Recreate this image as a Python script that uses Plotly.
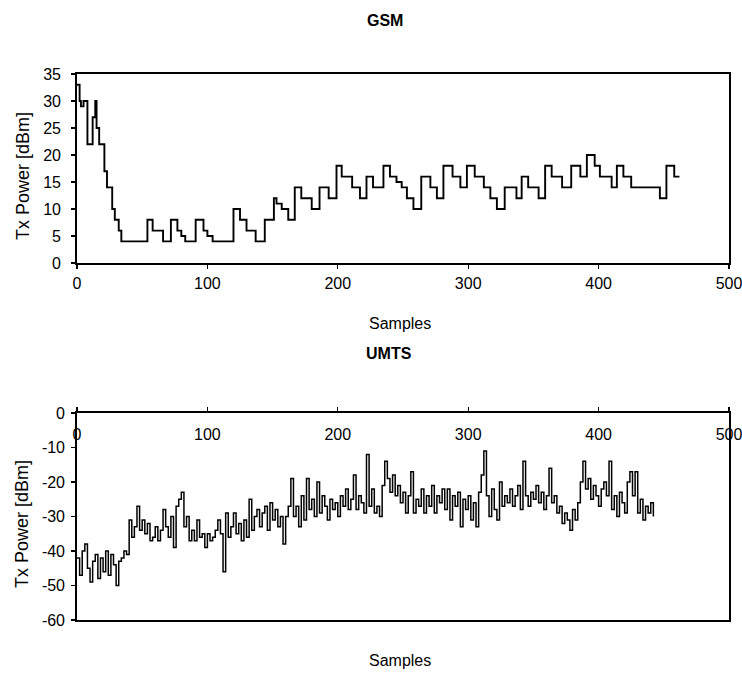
import plotly.graph_objects as go

W, H = 742, 673

# GSM: step change points (sample index, Tx power dBm)
gsm_samples = [0, 2, 3, 5, 8, 12, 14, 15, 17, 21, 23, 27, 29, 32, 34, 54, 58, 66, 72, 77, 80, 83,
               91, 97, 100, 104, 120, 125, 130, 137, 144, 151, 153, 157, 162, 167, 172, 180, 186,
               193, 199, 203, 211, 217, 222, 227, 235, 240, 245, 249, 253, 258, 264, 271, 276,
               281, 288, 294, 299, 305, 312, 317, 322, 328, 337, 341, 346, 354, 359, 364, 372,
               379, 386, 391, 397, 401, 410, 414, 419, 425, 447, 452, 458, 462]
gsm_power = [33, 30, 29, 30, 22, 27, 30, 25, 22, 17, 14, 10, 8, 6, 4, 8, 6, 4, 8, 6, 5, 4,
             8, 6, 5, 4, 10, 8, 6, 4, 8, 12, 11, 10, 8, 14, 12, 10, 14,
             12, 18, 16, 14, 12, 16, 14, 18, 16, 15, 14, 12, 10, 16, 14, 12,
             18, 16, 14, 18, 16, 14, 12, 10, 14, 12, 16, 14, 12, 18, 16, 14,
             18, 16, 20, 18, 16, 14, 18, 16, 14, 12, 18, 16, 16]

# UMTS: Tx power every 2 samples (0..442)
umts_power = [
    -42, -47, -40, -38, -45, -49, -43, -41, -48, -42, -46, -40, -47, -41, -44, -50, -43, -42, -40, -41,
    -31, -36, -33, -27, -34, -31, -35, -32,
    -37, -36, -33, -37, -34, -28, -33, -36, -30, -39, -27, -25, -23,
    -33, -30, -37, -34, -37, -31, -36, -35, -39, -35, -37, -36, -34, -31,
    -35, -46, -29, -36, -33, -29, -35, -32, -37, -31, -36, -25, -34,
    -30, -28, -33, -29, -27, -34, -26, -31, -28, -33, -30, -38, -30,
    -27, -19, -30, -27, -33, -24, -31, -19, -28, -25, -30, -20,
    -29, -24, -27, -31, -25, -28, -26, -30, -24, -27, -22, -28, -25, -18, -28, -24, -26,
    -29, -12, -27, -22, -29, -27, -30,
    -21, -14, -19, -23, -18, -24, -21, -26, -23, -29, -24, -17, -29,
    -25, -27, -22, -29, -24, -27, -21, -29, -24, -26, -22, -28,
    -22, -31, -24, -27, -23, -33, -25, -28, -24, -31, -26, -33,
    -23, -18, -11, -24, -30, -22, -28, -31, -20, -27, -24, -26,
    -22, -27, -24, -21, -28, -14, -24,
    -27, -23, -25, -21, -26, -23, -28, -24, -16,
    -26, -24, -29, -27, -32, -29, -31, -34, -28, -31, -26,
    -20, -14, -22, -19, -25, -21, -24, -27, -22, -20, -24,
    -14, -28, -24, -30, -23, -26, -29, -20, -17, -24, -17, -29, -25, -31, -27, -29, -26, -30,
]
umts_samples = list(range(0, 2 * len(umts_power), 2))

x_ticks = [0, 100, 200, 300, 400, 500]
x_tick_labels = ["0", "100", "200", "300", "400", "500"]
gsm_y_ticks = [0, 5, 10, 15, 20, 25, 30, 35]
gsm_y_labels = ["0", "5", "10", "15", "20", "25", "30", "35"]
umts_y_ticks = [0, -10, -20, -30, -40, -50, -60]
umts_y_labels = ["0", "-10", "-20", "-30", "-40", "-50", "-60"]

FONT = "Liberation Sans, Arial, sans-serif"

def px_x(p):
    return p / W

def px_y(p):
    return 1 - p / H

fig = go.Figure()
fig.add_trace(go.Scatter(x=gsm_samples, y=gsm_power, mode="lines", line=dict(color="black", width=1.9, shape="hv"),
                         xaxis="x", yaxis="y", showlegend=False, hoverinfo="skip"))
fig.add_trace(go.Scatter(x=umts_samples, y=umts_power, mode="lines", line=dict(color="black", width=1.5, shape="hv"),
                         xaxis="x2", yaxis="y2", showlegend=False, hoverinfo="skip"))

xdom = [px_x(77), px_x(729)]
axis_common = dict(showgrid=False, zeroline=False, showline=True, linecolor="black", linewidth=1.8,
                   mirror=True, ticks="outside", ticklen=4, tickcolor="black", tickwidth=1.4,
                   automargin=False, fixedrange=True, ticklabeloverflow="allow",
                   tickfont=dict(family=FONT, size=16, color="black"))

fig.update_layout(
    width=W, height=H, margin=dict(l=0, r=0, t=0, b=0, autoexpand=False),
    paper_bgcolor="white", plot_bgcolor="white",
    xaxis=dict(domain=xdom, anchor="y", range=[0, 500], tickvals=x_ticks, ticktext=x_tick_labels,
               ticklabelstandoff=1, **axis_common),
    yaxis=dict(domain=[px_y(263), px_y(74)], anchor="x", range=[0, 35], tickvals=gsm_y_ticks,
               ticktext=gsm_y_labels, ticklabelstandoff=7, **axis_common),
    xaxis2=dict(domain=xdom, anchor="y2", side="top", range=[0, 500], tickvals=x_ticks, ticktext=x_tick_labels,
                ticklabelposition="inside", ticklabelstandoff=16, **axis_common),
    yaxis2=dict(domain=[px_y(620), px_y(413)], anchor="x2", range=[-60, 0], tickvals=umts_y_ticks,
                ticktext=umts_y_labels, ticklabelstandoff=3, **axis_common),
)

ann = [
    dict(text="<b>GSM</b>", x=385, y=20, size=16, angle=0),
    dict(text="Samples", x=400, y=323, size=16, angle=0),
    dict(text="<b>UMTS</b>", x=389, y=353, size=16, angle=0),
    dict(text="Samples", x=400, y=660, size=16, angle=0),
    dict(text="Tx Power [dBm]", x=23, y=176, size=18, angle=-90),
    dict(text="Tx Power [dBm]", x=22, y=524, size=18, angle=-90),
]
for a in ann:
    fig.add_annotation(text=a["text"], x=px_x(a["x"]), y=px_y(a["y"]), xref="paper", yref="paper",
                       xanchor="center", yanchor="middle", showarrow=False, textangle=a["angle"],
                       font=dict(family=FONT, size=a["size"], color="black"))

fig.write_html("out.html", config={"displayModeBar": False, "staticPlot": True},
               post_script="document.body.style.margin='0';document.body.style.padding='0';"
                           "document.body.style.overflow='hidden';")
